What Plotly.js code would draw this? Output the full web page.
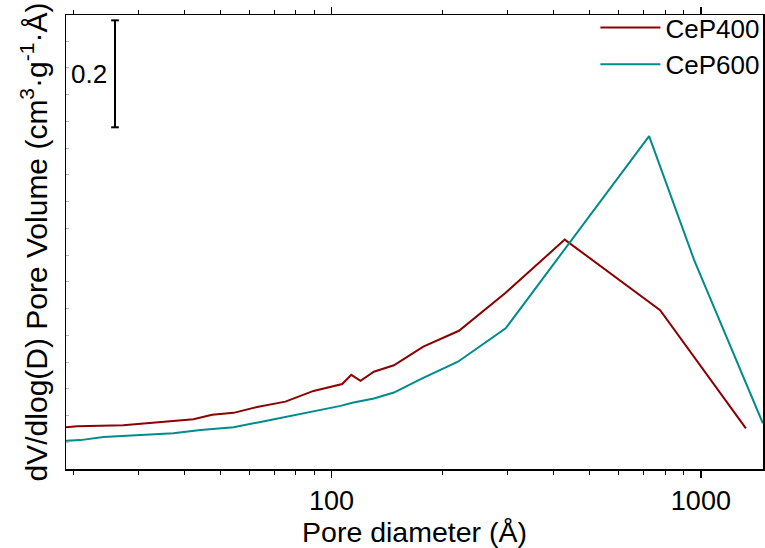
<!DOCTYPE html>
<html>
<head>
<meta charset="utf-8">
<script src="https://cdn.plot.ly/plotly-3.0.1.min.js"></script>
<style>html,body{margin:0;padding:0;background:#fff;}#chart{width:765px;height:548px;}</style>
</head>
<body>
<div id="chart"></div>
<script>
// Pore diameter (Å) and dV/dlog(D) pore volume values
const cep400_d = [19.1, 20.5, 27.3, 42.3, 47.5, 54.3, 62.9, 75.0, 89.4, 106.9, 113.1, 119.8, 130.2, 147.5, 177.2, 221.3, 296.1, 427.9, 775.7, 1324];
const cep400_v = [0.078, 0.080, 0.082, 0.093, 0.1015, 0.105, 0.116, 0.126, 0.146, 0.159, 0.176, 0.165, 0.182, 0.194, 0.229, 0.2585, 0.3295, 0.429, 0.297, 0.076];
const cep600_d = [19.1, 20.9, 24.1, 27.3, 30.4, 37.3, 44.2, 54.3, 64.2, 78.9, 89.4, 105.8, 113.8, 130.2, 147.5, 174.3, 219.9, 296.1, 724.2, 959, 1472];
const cep600_v = [0.053, 0.054, 0.060, 0.062, 0.064, 0.067, 0.073, 0.078, 0.088, 0.100, 0.107, 0.118, 0.124, 0.132, 0.143, 0.168, 0.2006, 0.263, 0.6224, 0.3907, 0.0854];
const seriesNames = ["CeP400", "CeP600"];
const xMajorTicks = [100, 1000];
const xTickLabels = ["100", "1000"];
const xMinorTicks = [20, 30, 40, 50, 60, 70, 80, 90, 200, 300, 400, 500, 600, 700, 800, 900];
const scaleBarValue = 0.2;
const scaleBarTop = 0.839;
const scaleBarLabel = "0.2";

const FONT = "Liberation Sans, Arial, sans-serif";
const barX = 0.0703;
const capHalf = 0.0055;

const traces = [
  {x: cep400_d, y: cep400_v, name: seriesNames[0], type: "scatter", mode: "lines",
   line: {color: "#8B0000", width: 2}},
  {x: cep600_d, y: cep600_v, name: seriesNames[1], type: "scatter", mode: "lines",
   line: {color: "#008B8B", width: 2}}
];

const layout = {
  width: 765, height: 548,
  margin: {l: 66, r: 2, t: 15, b: 79, autoexpand: false},
  paper_bgcolor: "#fff", plot_bgcolor: "#fff",
  font: {family: FONT, size: 26, color: "#000"},
  showlegend: true,
  legend: {x: 1.002, y: 1.024, xanchor: "right", yanchor: "top", bgcolor: "rgba(0,0,0,0)",
           font: {family: FONT, size: 26, color: "#000"}, itemwidth: 60, tracegroupgap: 0},
  xaxis: {
    type: "log", automargin: false,
    range: [Math.log10(19.1), Math.log10(1473)],
    tickmode: "array", tickvals: xMajorTicks, ticktext: xTickLabels,
    ticks: "outside", ticklen: 7, tickwidth: 1.5, tickcolor: "#000",
    minor: {tickmode: "array", tickvals: xMinorTicks, ticks: "outside", ticklen: 4, tickwidth: 1, tickcolor: "#000", showgrid: false},
    showline: true, linecolor: "#000", linewidth: 1.5, mirror: "ticks",
    showgrid: false, zeroline: false,
    tickfont: {family: FONT, size: 27, color: "#000"},
    title: {text: "Pore diameter (Å)", font: {family: FONT, size: 28.5, color: "#000"}, standoff: 17}
  },
  yaxis: {
    range: [0, 0.849], automargin: false,
    tickmode: "linear", tick0: 0, dtick: 0.05,
    ticks: "inside", ticklen: 3, tickwidth: 1, tickcolor: "#bbb",
    showticklabels: false,
    showline: true, linecolor: "#000", linewidth: 1.5, mirror: true,
    showgrid: false, zeroline: false,
    title: {text: "dV/dlog(D) Pore Volume (cm<sup>3</sup>·g<sup>-1</sup>·Å)", font: {family: FONT, size: 30, color: "#000"}, standoff: 8}
  },
  shapes: [
    {type: "line", xref: "paper", yref: "y", x0: barX, x1: barX, y0: scaleBarTop - scaleBarValue, y1: scaleBarTop, line: {color: "#000", width: 2}},
    {type: "line", xref: "paper", yref: "y", x0: barX - capHalf, x1: barX + capHalf, y0: scaleBarTop, y1: scaleBarTop, line: {color: "#000", width: 2}},
    {type: "line", xref: "paper", yref: "y", x0: barX - capHalf, x1: barX + capHalf, y0: scaleBarTop - scaleBarValue, y1: scaleBarTop - scaleBarValue, line: {color: "#000", width: 2}}
  ],
  annotations: [
    {xref: "paper", yref: "y", x: 0.061, y: scaleBarTop - scaleBarValue / 2, xanchor: "right", yanchor: "middle",
     text: scaleBarLabel, showarrow: false, font: {family: FONT, size: 26, color: "#000"}}
  ]
};

Plotly.newPlot("chart", traces, layout, {displayModeBar: false, staticPlot: true});
</script>
</body>
</html>
